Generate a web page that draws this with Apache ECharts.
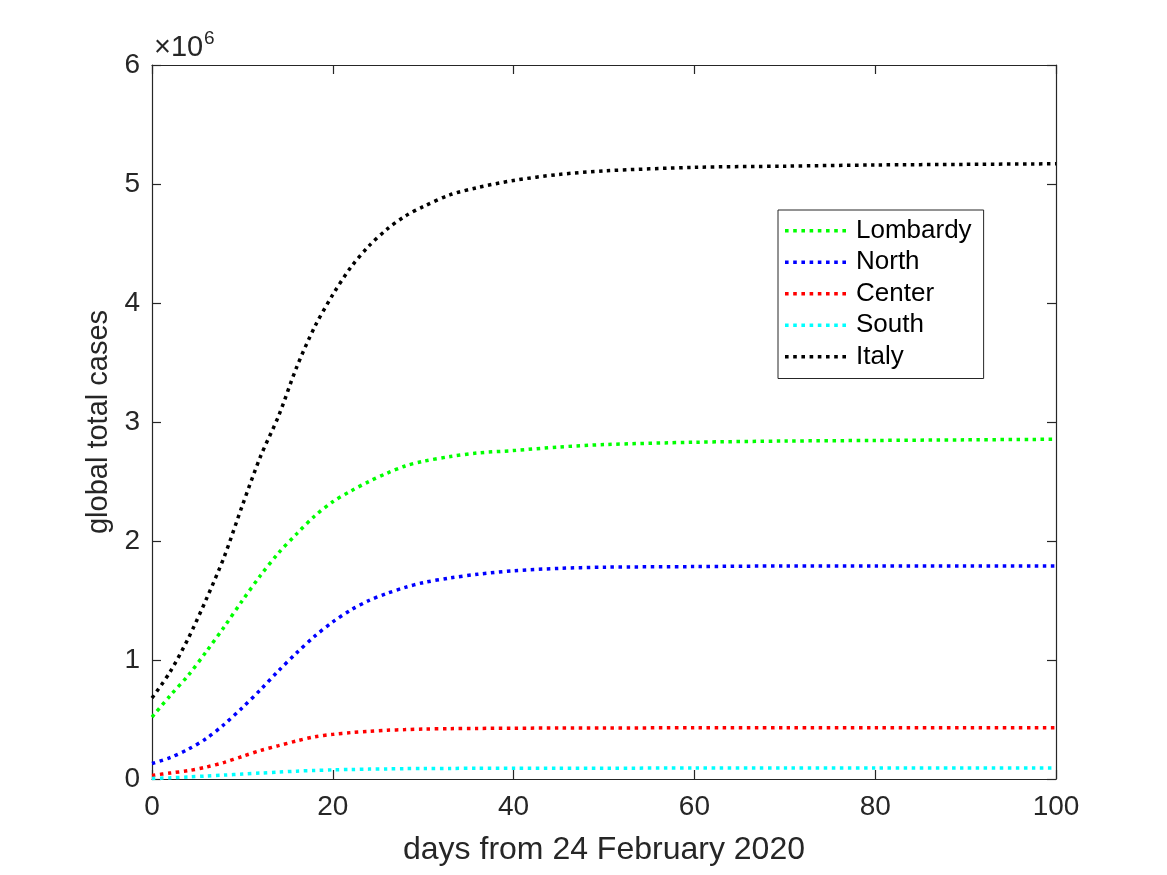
<!DOCTYPE html>
<html lang="en">

<head>
    <meta charset="UTF-8">
    <title>global total cases</title>
    <script src="https://cdn.jsdelivr.net/npm/echarts@6/dist/echarts.min.js"></script>
    <style>
        html, body { margin: 0; padding: 0; background: #fff; }
    </style>
</head>

<body>
    <div id="main" style="width: 1167px;height: 875px;"></div>
</body>
<script type="text/javascript">
    // days from 24 February 2020
    var days = [0, 2, 4, 6, 8, 10, 12, 14, 16, 18, 20, 22, 24, 26, 28, 30, 33, 36, 40, 45, 50, 60, 70, 80, 90, 100];

    // cases, in units of 10^6
    var lombardy = [0.52, 0.70, 0.87, 1.07, 1.28, 1.50, 1.71, 1.90, 2.06, 2.21, 2.33, 2.42, 2.50, 2.57, 2.63, 2.67, 2.71, 2.74, 2.76, 2.79, 2.81, 2.83, 2.84, 2.845, 2.85, 2.855];
    var north = [0.13, 0.18, 0.25, 0.34, 0.46, 0.60, 0.75, 0.91, 1.06, 1.20, 1.32, 1.42, 1.50, 1.56, 1.61, 1.65, 1.69, 1.72, 1.75, 1.77, 1.78, 1.785, 1.79, 1.79, 1.79, 1.79];
    var center = [0.03, 0.05, 0.07, 0.10, 0.14, 0.19, 0.24, 0.28, 0.32, 0.355, 0.375, 0.39, 0.40, 0.41, 0.415, 0.42, 0.423, 0.425, 0.427, 0.428, 0.429, 0.43, 0.43, 0.43, 0.43, 0.43];
    var south = [0.005, 0.01, 0.017, 0.025, 0.033, 0.042, 0.05, 0.058, 0.066, 0.072, 0.077, 0.08, 0.083, 0.085, 0.087, 0.088, 0.089, 0.09, 0.09, 0.091, 0.091, 0.092, 0.092, 0.092, 0.092, 0.092];
    var italy = [0.68, 0.90, 1.18, 1.51, 1.87, 2.30, 2.71, 3.05, 3.46, 3.80, 4.07, 4.30, 4.48, 4.62, 4.73, 4.81, 4.91, 4.97, 5.03, 5.08, 5.11, 5.14, 5.15, 5.16, 5.165, 5.17];

    var chart = echarts.init(document.getElementById('main'));

    var font = 'Liberation Sans, Arial, Helvetica, sans-serif';
    var ink = '#262626';

    // dotted legend key, 8 square dots
    var dotIcon = 'path://M0,0h3.6v3.6h-3.6z M8.2,0h3.6v3.6h-3.6z M16.4,0h3.6v3.6h-3.6z M24.6,0h3.6v3.6h-3.6z '
        + 'M32.8,0h3.6v3.6h-3.6z M41,0h3.6v3.6h-3.6z M49.2,0h3.6v3.6h-3.6z M57.4,0h3.6v3.6h-3.6z';

    function pairs(ys) {
        return days.map(function (d, i) { return [d, ys[i]]; });
    }

    function lineSeries(name, color, ys) {
        return {
            name: name,
            type: 'line',
            smooth: 0.3,
            showSymbol: false,
            symbol: 'none',
            silent: true,
            z: name === 'Italy' ? 5 : 3,
            lineStyle: { color: color, width: 3.5, type: [3.5, 4.5], cap: 'butt' },
            itemStyle: { color: color },
            data: pairs(ys)
        };
    }

    // box axes (top / right) carry only inward ticks
    function boxAxis(extra) {
        return Object.assign({
            type: 'value',
            axisLine: { show: true, onZero: false, lineStyle: { color: ink, width: 1.2 } },
            axisTick: { show: true, inside: true, length: 9, lineStyle: { color: ink, width: 1.2 } },
            axisLabel: { show: false },
            splitLine: { show: false }
        }, extra);
    }

    var option = {
        animation: false,
        textStyle: { fontFamily: font, color: ink },
        grid: { left: 152, top: 65, right: 111, bottom: 96 },
        legend: {
            orient: 'vertical',
            left: 778,
            top: 210,
            padding: [5, 12, 6, 7],
            itemGap: 0,
            itemWidth: 61,
            itemHeight: 3.6,
            icon: dotIcon,
            borderColor: ink,
            borderWidth: 1,
            backgroundColor: '#fff',
            textStyle: { fontFamily: font, fontSize: 26, lineHeight: 31.5, color: '#000', padding: [0, 0, 0, 5] },
            data: ['Lombardy', 'North', 'Center', 'South', 'Italy']
        },
        xAxis: [{
            type: 'value',
            min: 0, max: 100, interval: 20,
            name: 'days from 24 February 2020',
            nameLocation: 'middle',
            nameGap: 55,
            nameTextStyle: { fontFamily: font, fontSize: 32, color: ink },
            axisLine: { show: true, onZero: false, lineStyle: { color: ink, width: 1.2 } },
            axisTick: { inside: true, length: 9, lineStyle: { color: ink, width: 1.2 } },
            axisLabel: { fontFamily: font, fontSize: 28, color: ink, margin: 14 },
            splitLine: { show: false }
        }, boxAxis({ position: 'top', min: 0, max: 100, interval: 20 })],
        yAxis: [{
            type: 'value',
            min: 0, max: 6, interval: 1,
            name: 'global total cases',
            nameLocation: 'middle',
            nameGap: 37,
            nameRotate: 90,
            nameTextStyle: { fontFamily: font, fontSize: 29, color: ink },
            axisLine: { show: true, onZero: false, lineStyle: { color: ink, width: 1.2 } },
            axisTick: { show: true, inside: true, length: 9, lineStyle: { color: ink, width: 1.2 } },
            axisLabel: { fontFamily: font, fontSize: 28, color: ink, margin: 12 },
            splitLine: { show: false }
        }, boxAxis({ position: 'right', min: 0, max: 6, interval: 1 })],
        graphic: [{
            type: 'text',
            left: 154,
            top: 33,
            style: { text: '×10', font: '29px ' + font, fill: ink }
        }, {
            type: 'text',
            left: 204,
            top: 29,
            style: { text: '6', font: '19px ' + font, fill: ink }
        }],
        series: [
            lineSeries('Lombardy', '#00ff00', lombardy),
            lineSeries('North', '#0000ff', north),
            lineSeries('Center', '#ff0000', center),
            lineSeries('South', '#00ffff', south),
            lineSeries('Italy', '#000000', italy)
        ]
    };

    chart.setOption(option);
</script>

</html>
